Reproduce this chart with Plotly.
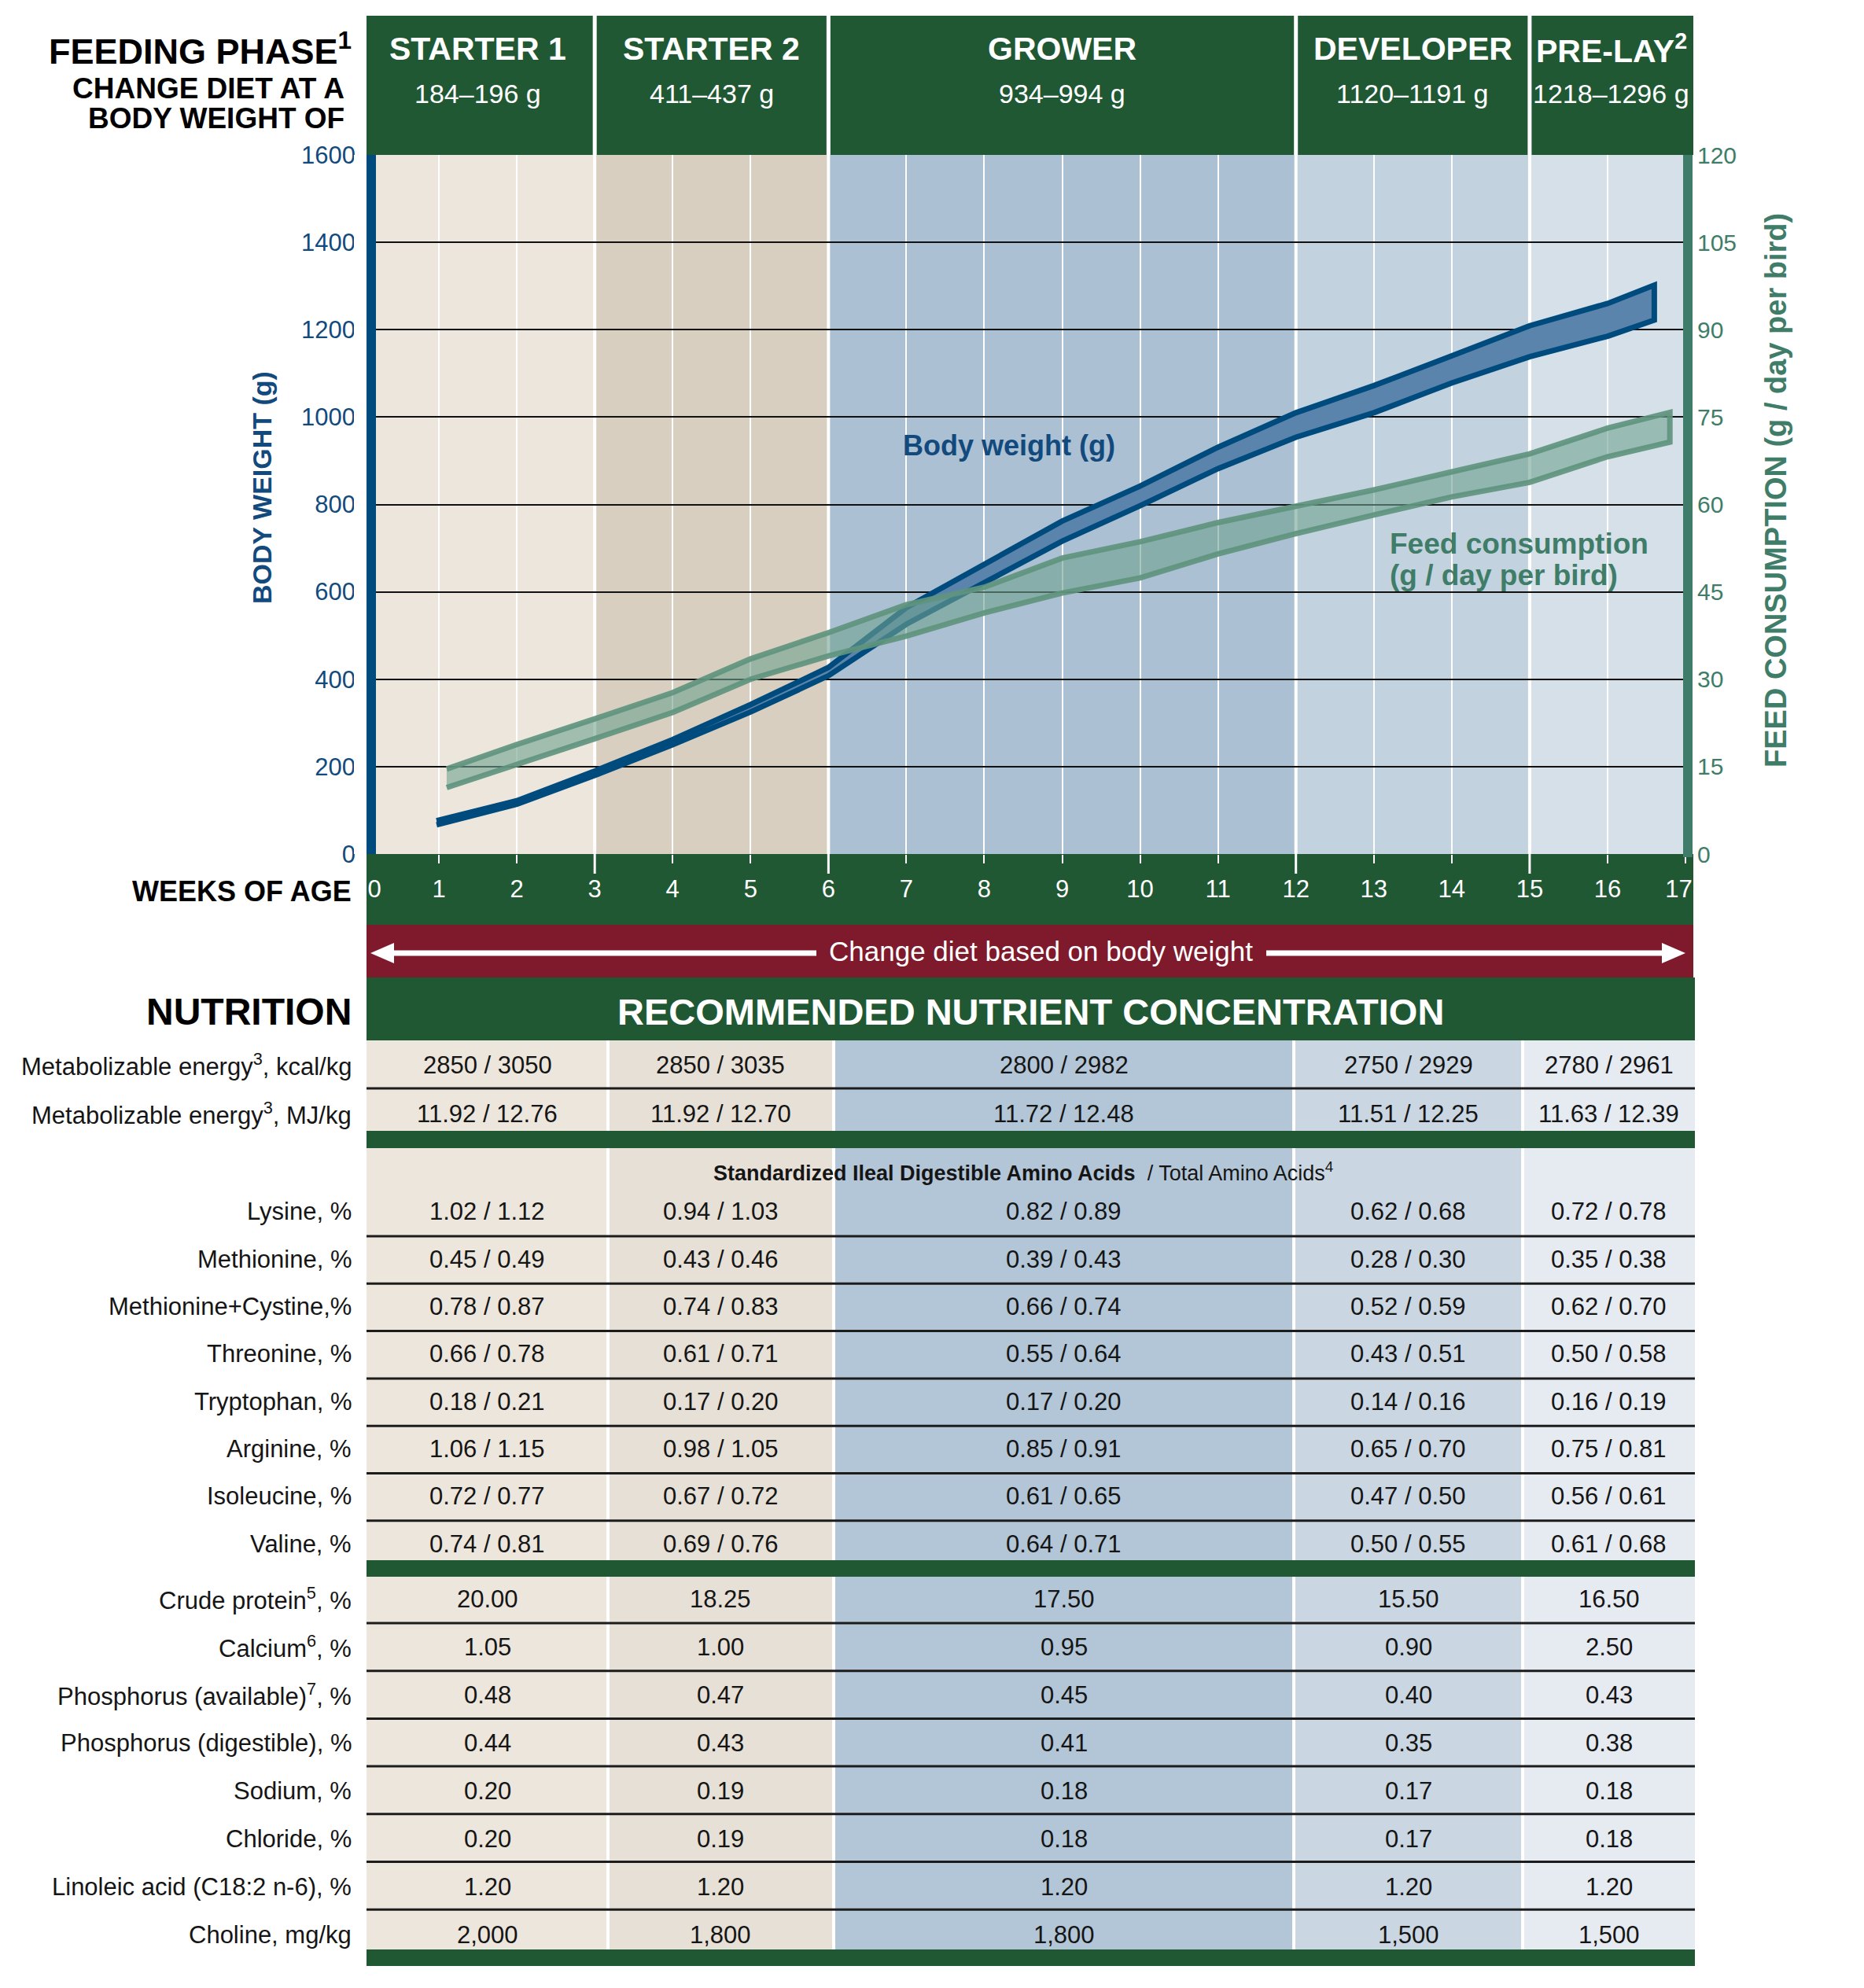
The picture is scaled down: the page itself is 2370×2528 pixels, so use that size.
import plotly.graph_objects as go

W, H = 2370, 2528
OFF = 8                      # page body margin of the html page
FW, FH = W - OFF, H - OFF    # figure size

# ---------------- data ----------------
phase_names = ["STARTER 1", "STARTER 2", "GROWER", "DEVELOPER", "PRE-LAY<sup>2</sup>"]
phase_weights = ["184–196 g", "411–437 g", "934–994 g", "1120–1191 g", "1218–1296 g"]
phase_bounds = [0, 3, 6, 12, 15, 17]
week_ticks = list(range(0, 18))
week_text = ["\u00a0\u00a0\u00a0\u00a00"] + [str(w) for w in range(1, 17)] + ["17\u00a0\u00a0"]
bw_ticks = list(range(0, 1601, 200))
fc_ticks = list(range(0, 121, 15))

bw_weeks = [0.97, 2, 3, 4, 5, 6, 7, 8, 9, 10, 11, 12, 13, 14, 15, 16, 16.6]
bw_upper = [76, 122, 190, 262, 342, 427, 564, 664, 762, 842, 931, 1010, 1072, 1140, 1209, 1260, 1302]
bw_lower = [67, 114, 180, 250, 325, 408, 526, 621, 716, 797, 882, 954, 1010, 1078, 1138, 1185, 1222]

fc_weeks = [1.1, 2, 3, 4, 5, 6, 7, 8, 9, 10, 11, 12, 13, 14, 15, 16, 16.8]
fc_upper = [14.6, 18.8, 23.2, 27.7, 33.5, 38.0, 42.8, 45.8, 50.8, 53.6, 56.9, 59.7, 62.5, 65.6, 68.7, 73.1, 75.8]
fc_lower = [11.4, 15.4, 19.8, 24.3, 30.0, 34.0, 37.4, 41.4, 44.8, 47.4, 51.5, 55.0, 58.2, 61.3, 63.8, 68.2, 70.7]

energy_labels = ["Metabolizable energy<sup>3</sup>, kcal/kg", "Metabolizable energy<sup>3</sup>, MJ/kg"]
me_kcal = ["2850 / 3050", "2850 / 3035", "2800 / 2982", "2750 / 2929", "2780 / 2961"]
me_mj = ["11.92 / 12.76", "11.92 / 12.70", "11.72 / 12.48", "11.51 / 12.25", "11.63 / 12.39"]

amino_labels = ["Lysine, %", "Methionine, %", "Methionine+Cystine,%", "Threonine, %",
                "Tryptophan, %", "Arginine, %", "Isoleucine, %", "Valine, %"]
sid_amino = [
    [1.02, 0.94, 0.82, 0.62, 0.72],
    [0.45, 0.43, 0.39, 0.28, 0.35],
    [0.78, 0.74, 0.66, 0.52, 0.62],
    [0.66, 0.61, 0.55, 0.43, 0.50],
    [0.18, 0.17, 0.17, 0.14, 0.16],
    [1.06, 0.98, 0.85, 0.65, 0.75],
    [0.72, 0.67, 0.61, 0.47, 0.56],
    [0.74, 0.69, 0.64, 0.50, 0.61],
]
total_amino = [
    [1.12, 1.03, 0.89, 0.68, 0.78],
    [0.49, 0.46, 0.43, 0.30, 0.38],
    [0.87, 0.83, 0.74, 0.59, 0.70],
    [0.78, 0.71, 0.64, 0.51, 0.58],
    [0.21, 0.20, 0.20, 0.16, 0.19],
    [1.15, 1.05, 0.91, 0.70, 0.81],
    [0.77, 0.72, 0.65, 0.50, 0.61],
    [0.81, 0.76, 0.71, 0.55, 0.68],
]
other_labels = ["Crude protein<sup>5</sup>, %", "Calcium<sup>6</sup>, %", "Phosphorus (available)<sup>7</sup>, %",
                "Phosphorus (digestible), %", "Sodium, %", "Chloride, %",
                "Linoleic acid (C18:2 n-6), %", "Choline, mg/kg"]
other_values = [
    ["20.00", "18.25", "17.50", "15.50", "16.50"],
    ["1.05", "1.00", "0.95", "0.90", "2.50"],
    ["0.48", "0.47", "0.45", "0.40", "0.43"],
    ["0.44", "0.43", "0.41", "0.35", "0.38"],
    ["0.20", "0.19", "0.18", "0.17", "0.18"],
    ["0.20", "0.19", "0.18", "0.17", "0.18"],
    ["1.20", "1.20", "1.20", "1.20", "1.20"],
    ["2,000", "1,800", "1,800", "1,500", "1,500"],
]

# ---------------- style / layout constants ----------------
GREEN = "#205834"
RED = "#7e1a2b"
BLUE = "#004b7d"
BLUE_TXT = "#124a7e"
FC_GREEN = "#3f7d69"
AXIS_GREEN = "#3f7d6a"
TXT = "#151515"
band_colors = ["#ece6dd", "#d8cfc1", "#abc0d2", "#c3d2df", "#d5e0e9"]
table_colors = ["#ece6dc", "#e6e0d6", "#b2c6d7", "#cad7e2", "#e6ebf2"]

BOLD = "Liberation Sans, Arial, sans-serif"
REGF = "Liberation Sans, Arial, sans-serif"
REG = 31  # regular table text size

PL, PR, PT, PB = 459, 2143, 197, 1086   # plot area in page px
BL, BR = 466, 2153                      # band extents in page px
TR = 2155                               # table right edge


def fx(x):
    return (x - OFF) / FW


def fy(y):
    return 1 - (y - OFF) / FH


ann = []
shapes = []


def text(x, y, s, size, color=TXT, family=REGF, weight=None, xanchor="center",
         xref="paper", yref="paper", angle=0, align="center"):
    f = dict(family=family, size=size, color=color)
    if weight:
        f["weight"] = weight
    ann.append(dict(x=x, y=y, xref=xref, yref=yref, text=s, showarrow=False,
                    xanchor=xanchor, yanchor="middle", font=f, textangle=angle, align=align))


def rect(x0, y0, x1, y1, color, layer="below", xref="paper", yref="paper"):
    shapes.append(dict(type="rect", x0=x0, x1=x1, y0=y0, y1=y1, xref=xref, yref=yref,
                       fillcolor=color, line=dict(width=0), layer=layer))


def seg(x0, y0, x1, y1, color, width, layer="below", xref="paper", yref="paper"):
    shapes.append(dict(type="line", x0=x0, x1=x1, y0=y0, y1=y1, xref=xref, yref=yref,
                       line=dict(color=color, width=width), layer=layer))


# ---------------- chart backgrounds ----------------
for i in range(5):
    rect(phase_bounds[i], 0, phase_bounds[i + 1], 1, band_colors[i], xref="x", yref="y domain")
for b in phase_bounds[1:-1]:
    seg(b, 0, b, 1, "white", 4, xref="x", yref="y domain")

# header band
rect(fx(BL), fy(PT), fx(BR), fy(20), GREEN)
for b in phase_bounds[1:-1]:
    seg(b, fy(PT), b, fy(20), "white", 5, xref="x")
hdr_right = (BR - PL) / (PR - PL) * 17
hdr_edges = phase_bounds[:-1] + [hdr_right]
for i in range(5):
    xc = (hdr_edges[i] + hdr_edges[i + 1]) / 2
    text(xc, fy(62), phase_names[i], 41, "white", BOLD, 700, xref="x")
    text(xc, fy(119), phase_weights[i], 34, "white", REGF, xref="x")

text(fx(449), fy(62), "FEEDING PHASE<sup>1</sup>", 45, "black", BOLD, 700, xanchor="right")
text(fx(440), fy(113), "CHANGE DIET AT A", 37, "black", BOLD, 700, xanchor="right")
text(fx(440), fy(150), "BODY WEIGHT OF", 37, "black", BOLD, 700, xanchor="right")

# x-axis band
rect(fx(BL), fy(1176), fx(BR), fy(PB), GREEN)
for b in phase_bounds[1:-1]:
    seg(b, fy(PB), b, fy(1111), "white", 3, xref="x")
text(fx(449), fy(1133), "WEEKS OF AGE", 36, "black", BOLD, 700, xanchor="right")

# red band with arrows
rect(fx(BL), fy(1243), fx(BR), fy(1176), RED)
AY = 1212
seg(fx(495), fy(AY), fx(1038), fy(AY), "white", 7)
seg(fx(1610), fy(AY), fx(2118), fy(AY), "white", 7)
shapes.append(dict(type="path", xref="paper", yref="paper", layer="below",
                   path=f"M {fx(471)},{fy(AY)} L {fx(501)},{fy(AY-13)} L {fx(501)},{fy(AY+13)} Z",
                   fillcolor="white", line=dict(width=0)))
shapes.append(dict(type="path", xref="paper", yref="paper", layer="below",
                   path=f"M {fx(2143)},{fy(AY)} L {fx(2113)},{fy(AY-13)} L {fx(2113)},{fy(AY+13)} Z",
                   fillcolor="white", line=dict(width=0)))
text(fx(1323), fy(1209), "Change diet based on body weight", 35, "white", REGF)

# nutrition header
rect(fx(BL), fy(1323), fx(TR), fy(1243), GREEN)
text(fx(449), fy(1286), "NUTRITION", 48, "black", BOLD, 700, xanchor="right")
text(fx(1310), fy(1286), "RECOMMENDED NUTRIENT CONCENTRATION", 47, "white", BOLD, 700)

# axis lines (drawn above)
rect(fx(450), fy(PB), fx(466), fy(PT), "white", layer="above")
rect(fx(466), fy(PB), fx(478), fy(PT), BLUE, layer="above")
rect(fx(2140), fy(PB + 4), fx(2152), fy(PT), AXIS_GREEN, layer="above")

# axis titles
text(fx(333), fy(620), "BODY WEIGHT (g)", 34, BLUE_TXT, BOLD, 700, angle=-90)
text(fx(2258), fy(624), "FEED CONSUMPTION (g / day per bird)", 38, FC_GREEN, BOLD, 700, angle=-90)

# series labels
text(fx(1146), fy(566), "Body weight (g)", 36, BLUE_TXT, BOLD, 700, xanchor="left")
text(fx(1765), fy(692), "Feed consumption", 37, FC_GREEN, BOLD, 700, xanchor="left")
text(fx(1765), fy(731), "(g / day per bird)", 37, FC_GREEN, BOLD, 700, xanchor="left")

# ---------------- table ----------------
col_edges = [466, 773, 1060, 1645, 1936, TR]
col_centers = [(col_edges[i] + col_edges[i + 1]) / 2 for i in range(5)]
sections = [(1323, 1438), (1460, 1984), (2005, 2479)]
for (t, b) in sections:
    for i in range(5):
        rect(fx(col_edges[i]), fy(b), fx(col_edges[i + 1]), fy(t), table_colors[i])
    for e in col_edges[1:-1]:
        seg(fx(e), fy(b), fx(e), fy(t), "white", 4)
for (t, b) in [(1438, 1460), (1984, 2005), (2479, 2500)]:
    rect(fx(BL), fy(b), fx(TR), fy(t), GREEN)

energy_y = [1354, 1416]
amino_y = [1541 + 60.3 * k for k in range(8)]
other_y = [2033 + 61 * k for k in range(8)]
sep_y = [1384] + [1572 + 60.3 * k for k in range(7)] + [2064 + 60.7 * k for k in range(7)]
for y in sep_y:
    seg(fx(BL), fy(y), fx(TR), fy(y), "#1c1c1c", 3)

LABEL_X = fx(449)
for lab, y, vals in zip(energy_labels, energy_y, [me_kcal, me_mj]):
    text(LABEL_X, fy(y), lab, REG, xanchor="right")
    for xc, v in zip(col_centers, vals):
        text(fx(xc), fy(y), v, REG)

text(fx(1301), fy(1490), "<b>Standardized Ileal Digestible Amino Acids</b>  / Total Amino Acids<sup>4</sup>", 27)

for lab, y, d, t in zip(amino_labels, amino_y, sid_amino, total_amino):
    text(LABEL_X, fy(y), lab, REG, xanchor="right")
    for xc, a, b in zip(col_centers, d, t):
        text(fx(xc), fy(y), f"{a:.2f} / {b:.2f}", REG)

for lab, y, vals in zip(other_labels, other_y, other_values):
    text(LABEL_X, fy(y), lab, REG, xanchor="right")
    for xc, v in zip(col_centers, vals):
        text(fx(xc), fy(y), v, REG)

# ---------------- traces ----------------
fig = go.Figure()
fig.add_trace(go.Scatter(
    x=bw_weeks + bw_weeks[::-1], y=bw_upper + bw_lower[::-1],
    fill="toself", fillcolor="#5b84ad", mode="lines",
    line=dict(color=BLUE, width=7), hoverinfo="skip"))
fig.add_trace(go.Scatter(
    x=fc_weeks + fc_weeks[::-1], y=fc_upper + fc_lower[::-1],
    fill="toself", fillcolor="rgba(112,162,144,0.6)", mode="lines",
    line=dict(color="rgba(96,148,126,0.92)", width=7), yaxis="y2", hoverinfo="skip"))

fig.update_layout(
    template="none",
    width=FW, height=FH,
    margin=dict(l=0, r=0, t=0, b=0),
    paper_bgcolor="white", plot_bgcolor="rgba(0,0,0,0)",
    showlegend=False, hovermode=False,
    xaxis=dict(domain=[fx(PL), fx(PR)], range=[0, 17], tickvals=week_ticks, ticktext=week_text,
               showgrid=True, gridcolor="white", gridwidth=2,
               ticks="outside", ticklen=11, tickwidth=2, tickcolor="white",
               tickfont=dict(family=REGF, size=31, color="white"),
               ticklabelstandoff=6, zeroline=False, showline=False, automargin=False),
    yaxis=dict(domain=[fy(PB), fy(PT)], range=[0, 1600], tickvals=bw_ticks,
               showgrid=True, gridcolor="#111111", gridwidth=2, ticks="",
               tickfont=dict(family=REGF, size=31, color=BLUE_TXT),
               ticklabelstandoff=6, zeroline=False, showline=False, automargin=False),
    yaxis2=dict(overlaying="y", side="right", range=[0, 120], tickvals=fc_ticks,
                showgrid=False, ticks="",
                tickfont=dict(family=REGF, size=30, color=FC_GREEN),
                ticklabelstandoff=14, zeroline=False, showline=False, automargin=False),
    shapes=shapes,
    annotations=ann,
)

fig.write_html("out.html")
